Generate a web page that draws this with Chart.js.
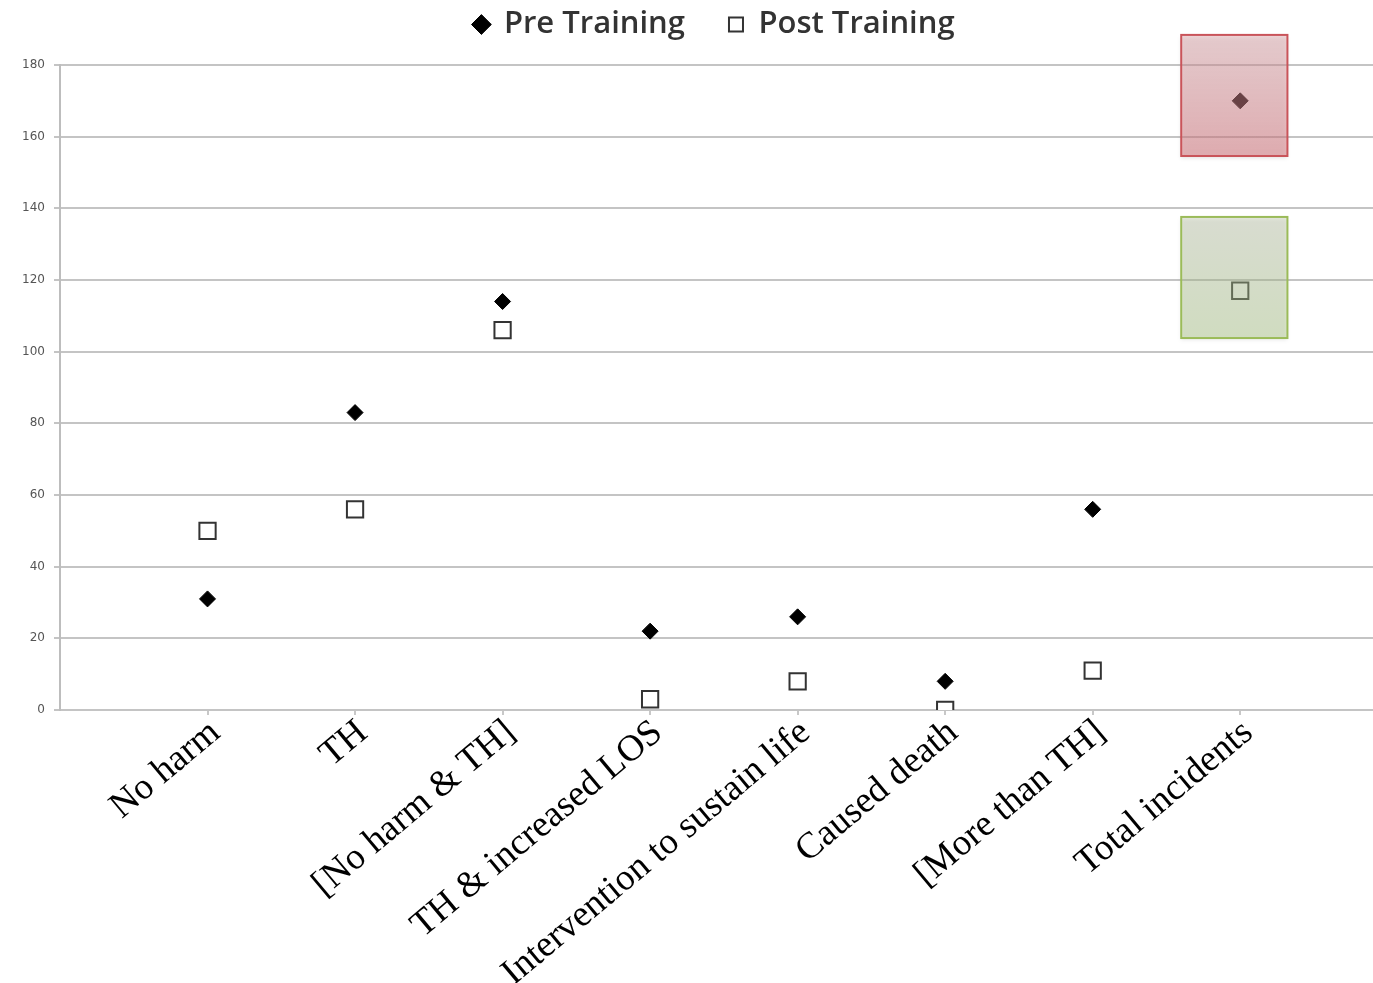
<!DOCTYPE html>
<html lang="en">
<head>
  <meta charset="UTF-8">
  <title>Pre / Post Training incidents</title>
  <script src="https://cdn.jsdelivr.net/npm/chart.js"></script>
  <style>
    html, body { margin: 0; padding: 0; background: #fff; overflow: hidden; }
    #wrap { width: 1373px; height: 983px; }
  </style>
</head>
<body>
  <div id="wrap"><canvas id="chart"></canvas></div>

  <script>
    const categories = ['No harm', 'TH', '[No harm & TH]', 'TH & increased LOS',
      'Intervention to sustain life', 'Caused death', '[More than TH]', 'Total incidents'];
    const preTraining  = [31, 83, 114, 22, 26, 8, 56, 170];
    const postTraining = [50, 56, 106, 3, 8, 0, 11, 117];
    const yTicks = [0, 20, 40, 60, 80, 100, 120, 140, 160, 180];

    // highlight boxes round the "Total incidents" points (in data units)
    const highlights = [
      { x0: 7.60, x1: 8.32, y0: 188.4, y1: 154.6,
        top: 'rgba(222,160,166,0.42)', bottom: 'rgba(218,120,128,0.52)', stroke: '#c9545a' },
      { x0: 7.60, x1: 8.32, y0: 137.6, y1: 103.8,
        top: 'rgba(190,200,170,0.40)', bottom: 'rgba(170,200,130,0.40)', stroke: '#9bbb59' }
    ];

    const toPoints = arr => arr.map((v, i) => ({ x: i + 1, y: v }));

    const highlightPlugin = {
      id: 'highlight',
      afterDatasetsDraw(chart) {
        const { ctx, scales: { x, y } } = chart;
        highlights.forEach(h => {
          const l = x.getPixelForValue(h.x0), r = x.getPixelForValue(h.x1);
          const t = y.getPixelForValue(h.y0), b = y.getPixelForValue(h.y1);
          const g = ctx.createLinearGradient(0, t, 0, b);
          g.addColorStop(0, h.top);
          g.addColorStop(1, h.bottom);
          ctx.save();
          ctx.shadowColor = 'rgba(0,0,0,0.22)';
          ctx.shadowBlur = 4;
          ctx.shadowOffsetY = 2;
          ctx.fillStyle = g;
          ctx.fillRect(l, t, r - l, b - t);
          ctx.shadowColor = 'transparent';
          ctx.strokeStyle = h.stroke;
          ctx.lineWidth = 2;
          ctx.strokeRect(l, t, r - l, b - t);
          ctx.restore();
        });
      }
    };

    // move the legend a bit up and right, like the original
    const legendShift = {
      id: 'legendShift',
      afterLayout(chart) {
        const lg = chart.legend;
        if (!lg) return;
        lg.top -= 15; lg.bottom -= 15;
        lg.left += 28; lg.right += 28;
      }
    };

    new Chart(document.getElementById('chart'), {
      type: 'scatter',
      data: {
        datasets: [
          {
            label: 'Pre Training',
            data: toPoints(preTraining),
            pointStyle: 'rectRot',
            pointRadius: 8,
            pointHoverRadius: 8,
            backgroundColor: '#000',
            borderColor: '#000',
            borderWidth: 1
          },
          {
            label: 'Post Training',
            data: toPoints(postTraining),
            pointStyle: 'rect',
            pointRadius: 11.5,
            pointHoverRadius: 11.5,
            backgroundColor: '#fff',
            borderColor: '#333',
            borderWidth: 2
          }
        ]
      },
      options: {
        responsive: true,
        maintainAspectRatio: false,
        animation: false,
        layout: { autoPadding: false, padding: { top: -21, right: 0, left: 0, bottom: 0 } },
        plugins: {
          tooltip: { enabled: false },
          legend: {
            position: 'top',
            labels: {
              usePointStyle: true,
              boxWidth: 14,
              boxHeight: 14,
              padding: 44,
              color: '#333',
              font: { family: 'Open Sans', size: 31, weight: '600' }
            }
          }
        },
        scales: {
          x: {
            type: 'linear',
            min: 0,
            max: 8.9,
            afterFit: s => { s.height = 273; },
            afterBuildTicks: s => { s.ticks = categories.map((c, i) => ({ value: i + 1 })); },
            border: { display: false },
            grid: { drawOnChartArea: false, drawTicks: true, tickLength: 5, color: '#c8c8c8', lineWidth: 2 },
            ticks: {
              autoSkip: false,
              minRotation: 40,
              maxRotation: 40,
              padding: -4,
              labelOffset: 8,
              color: '#000',
              font: { family: 'Liberation Serif', size: 37 },
              callback: v => categories[v - 1] || ''
            }
          },
          y: {
            min: 0,
            max: 180,
            afterFit: s => { s.width = 60; s.paddingTop = 65; },
            afterBuildTicks: s => { s.ticks = yTicks.map(v => ({ value: v })); },
            border: { display: true, color: '#bdbdbd', width: 2 },
            grid: { color: '#c4c4c4', lineWidth: 2, tickLength: 6 },
            ticks: {
              padding: 9,
              color: '#555',
              font: { family: 'DejaVu Sans', size: 12 }
            }
          }
        }
      },
      plugins: [highlightPlugin, legendShift]
    });
  </script>
</body>
</html>
